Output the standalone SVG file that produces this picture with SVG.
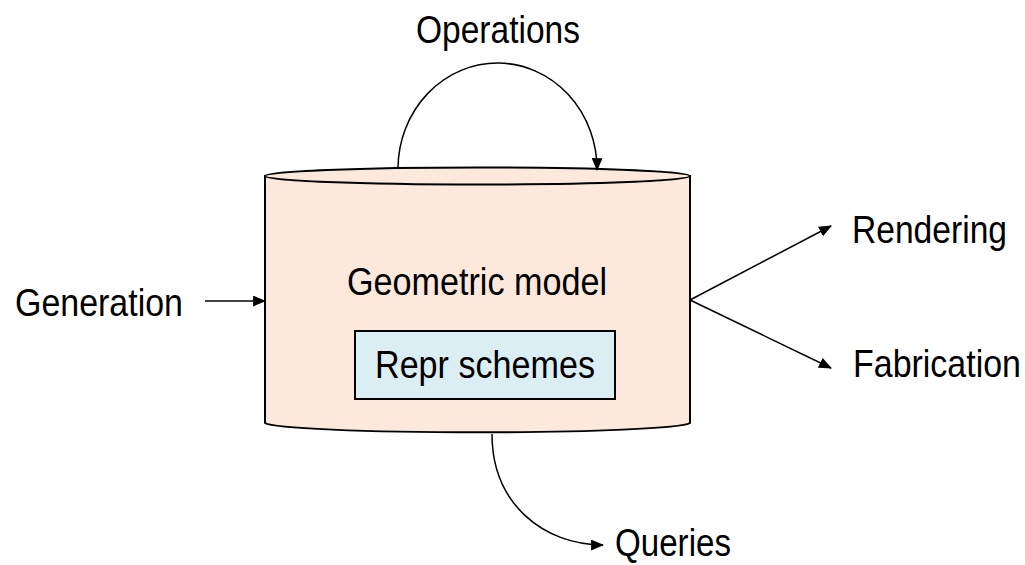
<svg xmlns="http://www.w3.org/2000/svg" width="1025" height="565" viewBox="0 0 1025 565">
<style>
text { font-family: "Liberation Sans", Arial, sans-serif; font-size: 34px; fill: #000; }
.ln { fill: none; stroke: #000; stroke-width: 1.5; }
.shape { stroke: #000; stroke-width: 2; }
</style>
<defs>
<marker id="arrL" viewBox="0 0 12 10" refX="11" refY="5" markerWidth="13" markerHeight="11" markerUnits="userSpaceOnUse" orient="auto">
<path d="M0,0 L12,5 L0,10 Z" fill="#000"/>
</marker>
</defs>
<rect width="1025" height="565" fill="#fff"/>
<g id="model">
<path class="shape" d="M265,176 L265,423 A213,10 0 0 0 690,423 L690,176 Z" fill="#FDE9DB"/>
<ellipse class="shape" cx="477.5" cy="176" rx="212.5" ry="8.5" fill="#FDE9DB"/>
<text transform="translate(347,295) scale(1,1.15)" textLength="260" lengthAdjust="spacingAndGlyphs">Geometric model</text>
</g>
<g id="repr">
<rect class="shape" x="355" y="331" width="260" height="68" fill="#DBEEF4"/>
<text transform="translate(375,378) scale(1,1.15)" textLength="220" lengthAdjust="spacingAndGlyphs">Repr schemes</text>
</g>
<g id="operations"><text transform="translate(416,43) scale(1,1.15)" textLength="164" lengthAdjust="spacingAndGlyphs">Operations</text></g>
<g id="generation"><text transform="translate(15,316) scale(1,1.15)" textLength="168" lengthAdjust="spacingAndGlyphs">Generation</text></g>
<g id="rendering"><text transform="translate(852,243) scale(1,1.15)" textLength="155" lengthAdjust="spacingAndGlyphs">Rendering</text></g>
<g id="fabrication"><text transform="translate(853,377) scale(1,1.15)" textLength="168" lengthAdjust="spacingAndGlyphs">Fabrication</text></g>
<g id="queries"><text transform="translate(615,556) scale(1,1.12)" textLength="116" lengthAdjust="spacingAndGlyphs">Queries</text></g>
<g id="connectors">
<path class="ln" d="M398,168 A99.5,106 0 0 1 597,170" marker-end="url(#arrL)"/>
<path class="ln" d="M205,301 L265,301" marker-end="url(#arrL)"/>
<path class="ln" d="M690,300 L831,226" marker-end="url(#arrL)"/>
<path class="ln" d="M690,300 L831,368" marker-end="url(#arrL)"/>
<path class="ln" d="M492,434 C492,505 545,545 603,545" marker-end="url(#arrL)"/>
</g>
</svg>
